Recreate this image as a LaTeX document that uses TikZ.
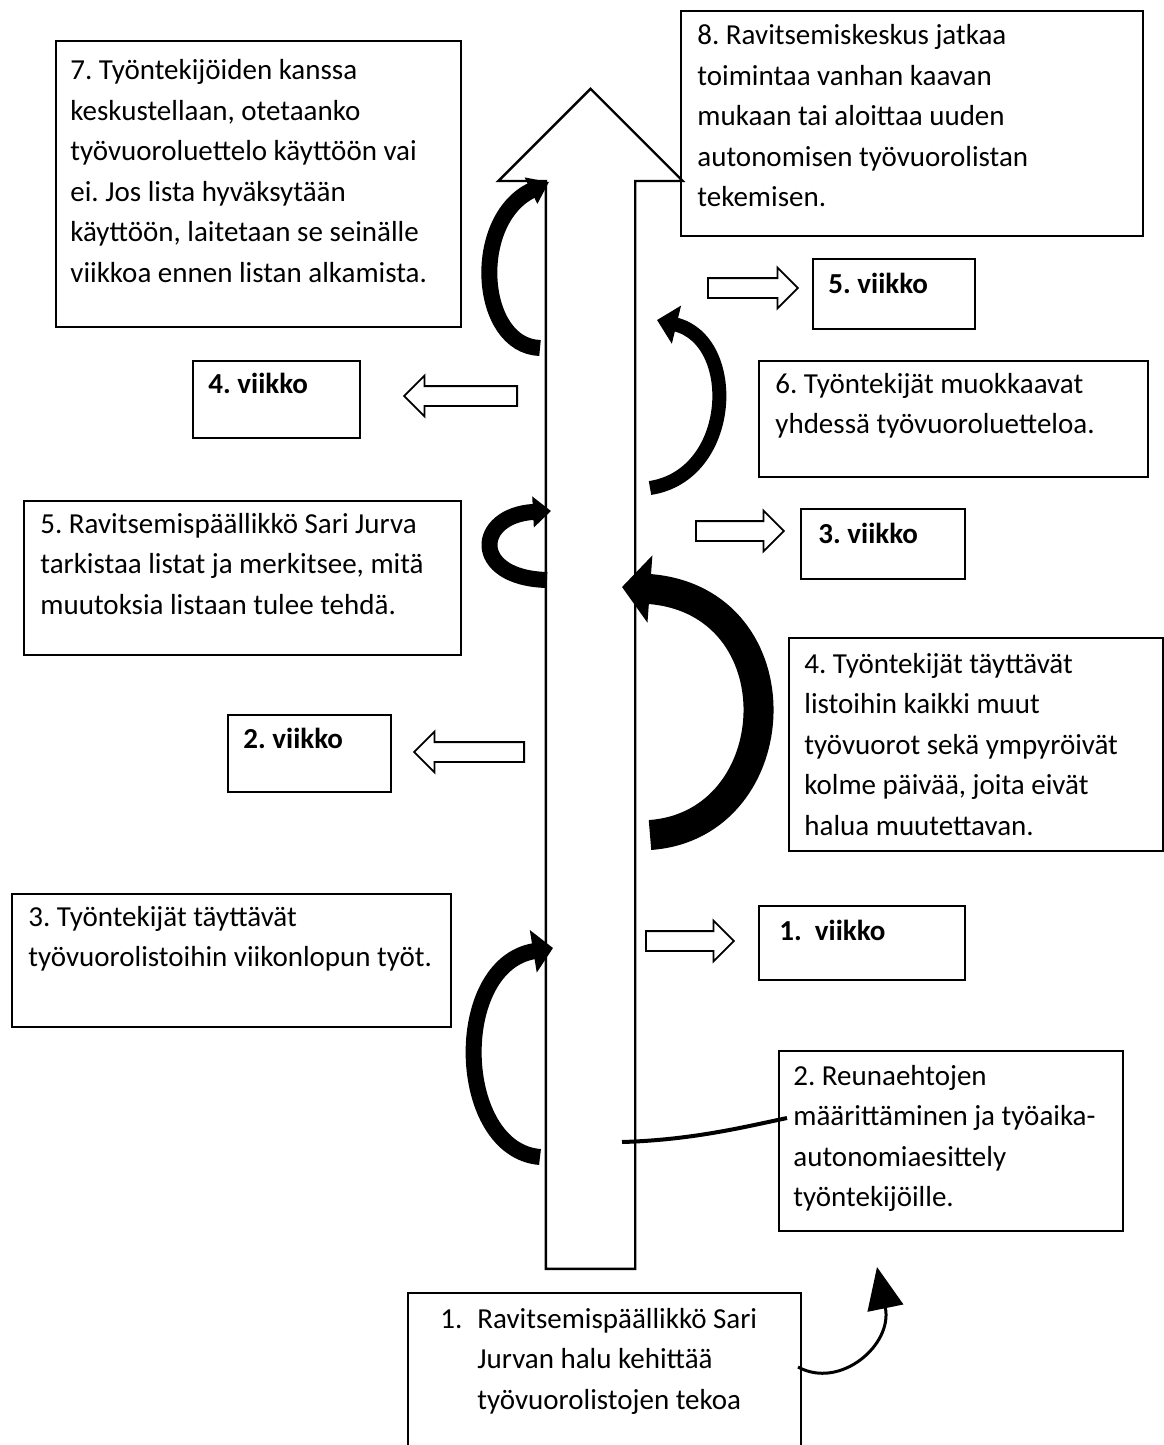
\documentclass[tikz,border=0pt]{standalone}
\usepackage{fontspec}
\setmainfont{Carlito}
\usetikzlibrary{shapes.arrows,arrows.meta}

\begin{document}
\begin{tikzpicture}[x=0.5pt,y=-0.5pt]
    \tikzset{%
      box/.style={draw, line width=1pt, anchor=north west, inner sep=0pt},
      txt/.style={anchor=base west, align=left, text width=240pt,
        inner sep=0pt, font=\fontsize{14.5pt}{20.25pt}\selectfont,
        execute at begin node={\frenchspacing\spaceskip=0pt\xspaceskip=0pt}},
      wtxt/.style={txt, font=\fontsize{14.5pt}{20.25pt}\selectfont\bfseries},
      bigarrow/.style={single arrow, draw, line width=1.2pt, fill=white,
        inner sep=21.75pt, single arrow head extend=23.75pt,
        minimum height=590pt, shape border rotate=90, anchor=tail},
      warrow/.style={single arrow, draw, line width=0.9pt, fill=white,
        inner sep=4.5pt, single arrow head extend=5.25pt, anchor=tail},
      carrow/.style={line width=8pt},
    }
    \useasboundingbox (0,0) rectangle (1163,1445);

    % the long arrow
    \node[bigarrow] (main) at (590.5,1270) {};

    % curved arrows
    \coordinate (a7s) at (540,348);
    \coordinate (a7e) at (549,182);
    \draw[carrow, -{Triangle[length=10pt,width=14pt]}] (a7s) .. controls (478,346) and (470,220) .. (a7e);
    \coordinate (a5s) at (547,580);
    \coordinate (a5e) at (551,511);
    \draw[carrow, -{Triangle[length=9pt,width=15pt]}] (a5s) .. controls (470,578) and (475,515) .. (a5e);
    \coordinate (a6s) at (650,488);
    \coordinate (a6e) at (657,320);
    \draw[carrow, line width=7pt, -{Triangle[length=10pt,width=19pt]}] (a6s) .. controls (735,475) and (740,340) .. (a6e);
    \coordinate (a4s) at (650,835);
    \coordinate (a4e) at (622,587);
    \draw[carrow, line width=15pt, -{Triangle[length=14pt,width=33pt]}] (a4s) .. controls (790,825) and (800,600) .. (a4e);
    \coordinate (a3s) at (540,1157);
    \coordinate (a3e) at (553,948);
    \draw[carrow, -{Triangle[length=10pt,width=21pt]}] (a3s) .. controls (455,1150) and (450,965) .. (a3e);

    % week arrows
    \node[warrow, minimum height=45pt] (r5) at (707,288) {};
    \node[warrow, minimum height=56.5pt, shape border rotate=180] (l4) at (518,396) {};
    \node[warrow, minimum height=44pt] (r3) at (695,531) {};
    \node[warrow, minimum height=55pt, shape border rotate=180] (l2) at (525,752) {};
    \node[warrow, minimum height=44pt] (r1) at (645,941) {};

    % boxes
    \node[box, minimum width=202.5pt, minimum height=143pt] (b7) at (55,40) {};
    \node[txt] (t7) at (70,80) {7. Työntekijöiden kanssa\\keskustellaan, otetaanko\\työvuoroluettelo käyttöön vai\\ei. Jos lista hyväksytään\\käyttöön, laitetaan se seinälle\\viikkoa ennen listan alkamista.};

    \node[box, minimum width=231pt, minimum height=112.5pt] (b8) at (680,10) {};
    \node[txt] (t8) at (697,45) {8. Ravitsemiskeskus jatkaa\\toimintaa vanhan kaavan\\mukaan tai aloittaa uuden\\autonomisen työvuorolistan\\tekemisen.};

    \node[box, minimum width=81pt, minimum height=35pt] (w5) at (812,258) {};
    \node[wtxt] (tw5) at (828,293) {5. viikko};

    \node[box, minimum width=83.5pt, minimum height=38.5pt] (w4) at (192,360) {};
    \node[wtxt] (tw4) at (208,393) {4. viikko};

    \node[box, minimum width=194.5pt, minimum height=58pt] (b6) at (758,360) {};
    \node[txt] (t6) at (775,393) {6. Työntekijät muokkaavat\\yhdessä työvuoroluetteloa.};

    \node[box, minimum width=218.5pt, minimum height=77pt] (b5) at (23,500) {};
    \node[txt] (t5) at (40,533) {5. Ravitsemispäällikkö Sari Jurva\\tarkistaa listat ja merkitsee, mitä\\muutoksia listaan tulee tehdä.};

    \node[box, minimum width=82pt, minimum height=35pt] (w3) at (800,508) {};
    \node[wtxt] (tw3) at (818,543) {3. viikko};

    \node[box, minimum width=187pt, minimum height=106.5pt] (b4) at (788,637) {};
    \node[txt] (t4) at (804,673) {4. Työntekijät täyttävät\\listoihin kaikki muut\\työvuorot sekä ympyröivät\\kolme päivää, joita eivät\\halua muutettavan.};

    \node[box, minimum width=81.5pt, minimum height=38.5pt] (w2) at (227,714) {};
    \node[wtxt] (tw2) at (243,748) {2. viikko};

    \node[box, minimum width=219.5pt, minimum height=66.5pt] (b3) at (11,893) {};
    \node[txt] (t3) at (28,926) {3. Työntekijät täyttävät\\työvuorolistoihin viikonlopun työt.};

    \node[box, minimum width=103pt, minimum height=37pt] (w1) at (758,905) {};
    \node[wtxt] (tw1) at (779,940) {1.\ \ viikko};

    \node[box, minimum width=172pt, minimum height=90pt] (b2) at (778,1050) {};
    \node[txt] (t2) at (793,1085) {2. Reunaehtojen\\määrittäminen ja työaika-\\autonomiaesittely\\työntekijöille.};

    \node[box, minimum width=196.5pt, minimum height=90pt] (b1) at (407,1292) {};
    \node[txt] (t1) at (440,1328) {\makebox[18.5pt][l]{1.}Ravitsemispäällikkö Sari\\\hspace*{18.5pt}Jurvan halu kehittää\\\hspace*{18.5pt}työvuorolistojen tekoa};

    % thin connectors
    \coordinate (c2s) at (622,1142);
    \coordinate (c2e) at (787,1118);
    \draw[line width=2pt] (c2s) .. controls (690,1140) and (740,1128) .. (c2e);
    \coordinate (c1s) at (798,1367);
    \coordinate (c1e) at (877,1267);
    \draw[line width=1.5pt, -{Triangle[length=21pt,width=18pt]}] (c1s) .. controls (840,1390) and (893,1345) .. (c1e);
\end{tikzpicture}
\end{document}
